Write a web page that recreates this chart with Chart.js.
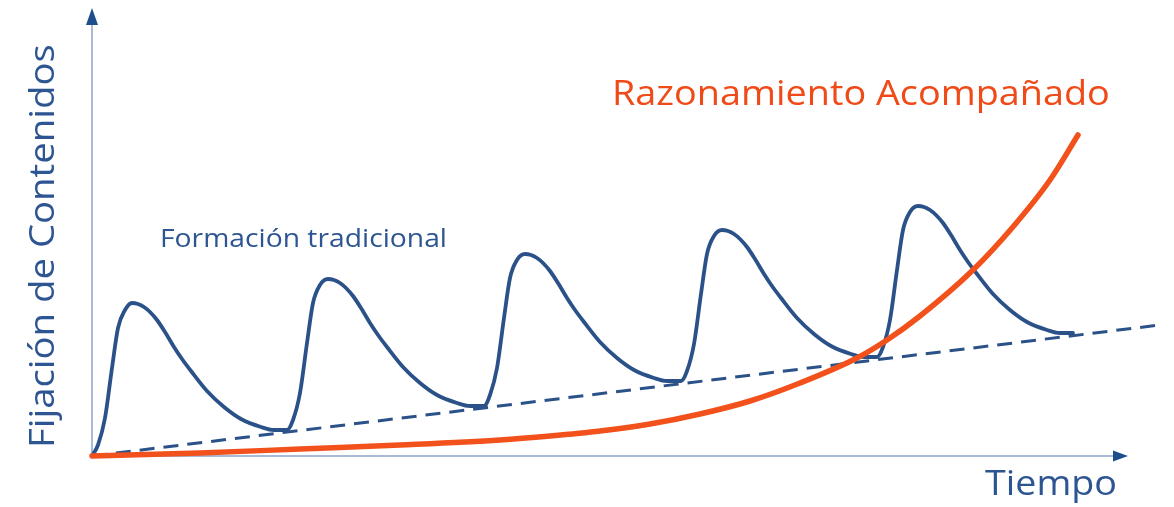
<!DOCTYPE html>
<html>
<head>
<meta charset="utf-8">
<script src="https://cdn.jsdelivr.net/npm/chart.js@4/dist/chart.umd.min.js"></script>
<style>
  html,body{margin:0;padding:0;background:#fff;}
  #wrap{width:1174px;height:507px;position:relative;}
</style>
</head>
<body>
<div id="wrap"><canvas id="c" width="1174" height="507"></canvas></div>
<script>
// ---- Data (arbitrary units: time along x, retention along y) ----
const titleY = "Fijación de Contenidos";
const titleX = "Tiempo";
const labelTraditional = "Formación tradicional";
const labelGuided = "Razonamiento Acompañado";

// Traditional training: learn-and-forget cycles
const tradX = [
  0,6,13,20,26,33,40,
  46,52,58,65,73,82,90,99,115,132,149,169,182,195,
  201,208,215,221,228,236,
  242,248,254,261,269,278,286,295,311,328,345,365,378,392,
  398,405,412,418,425,433,
  439,445,451,458,466,475,483,492,508,525,542,562,575,589,
  595,602,609,615,622,630,
  636,642,648,655,663,672,680,689,705,722,739,759,772,785,
  791,798,805,811,818,826,
  832,838,844,851,859,868,876,885,901,918,935,955,968,981];
const tradY = [
  0,11,38,88,128,146,153,
  152,149,144,136,124,109,97,85,65,49,37,29,26,26,
  36,63,113,153,171,177,
  176,173,168,160,148,133,121,109,89,73,61,53,50,50,
  61,88,138,178,196,202,
  201,198,193,185,173,158,146,134,114,98,86,78,75,75,
  85,112,162,202,220,226,
  225,222,217,209,197,182,170,158,138,122,110,102,99,99,
  109,136,186,226,244,250,
  249,246,241,233,221,206,194,182,162,146,134,126,123,123];

// Underlying trend of traditional training (dashed)
const trendX = [0, 1068];
const trendY = [0, 131];

// Guided reasoning: slow start, exponential growth
const guidedX = [0,108,208,308,408,458,508,558,608,658,708,765,795,828,881,920,958,986];
const guidedY = [0,3,7,11,16,20,25,32,42,55,73,98,116,140,186,228,276,321];

const X_MAX = 1070, Y_MAX = 440;
const AXIS_X_END = 1036, AXIS_Y_END = 448;

const toPts = (xs, ys) => xs.map((x, i) => ({x, y: ys[i]}));

const BLUE = '#2b5189';
const RED = '#f2511b';
const AXIS_LIGHT = '#a9bad6';
const AXIS_DARK = '#1f4e8c';
const FONT = '"Open Sans", "DejaVu Sans", sans-serif';

function fitText(ctx, text, x, y, width, capH, color, rotate) {
  ctx.save();
  ctx.font = '100px ' + FONT;
  const w100 = ctx.measureText(text).width;
  const cap100 = ctx.measureText('H').actualBoundingBoxAscent || 71.4;
  const size = 100 * width / w100;
  const cap = cap100 * size / 100;
  const sy = Math.min(1.15, Math.max(0.9, capH / cap));
  ctx.font = size.toFixed(2) + 'px ' + FONT;
  ctx.fillStyle = color;
  ctx.textBaseline = 'alphabetic';
  ctx.textAlign = 'left';
  ctx.translate(x, y);
  if (rotate) ctx.rotate(-Math.PI / 2);
  ctx.scale(1, sy);
  ctx.fillText(text, 0, 0);
  ctx.restore();
}

const decor = {
  id: 'decor',
  beforeDatasetsDraw(chart) {
    const ctx = chart.ctx;
    const xs = chart.scales.x, ys = chart.scales.y;
    const x0 = xs.getPixelForValue(0), y0 = ys.getPixelForValue(0);
    const xEnd = xs.getPixelForValue(AXIS_X_END);
    const yEnd = ys.getPixelForValue(AXIS_Y_END);
    ctx.save();
    ctx.strokeStyle = AXIS_LIGHT;
    ctx.lineWidth = 2;
    ctx.beginPath();
    ctx.moveTo(x0, y0); ctx.lineTo(xEnd - 10, y0);
    ctx.moveTo(x0, y0); ctx.lineTo(x0, yEnd + 12);
    ctx.stroke();
    ctx.fillStyle = AXIS_DARK;
    ctx.beginPath();
    ctx.moveTo(xEnd, y0); ctx.lineTo(xEnd - 15, y0 - 5.5); ctx.lineTo(xEnd - 15, y0 + 5.5); ctx.closePath();
    ctx.fill();
    ctx.beginPath();
    ctx.moveTo(x0, yEnd); ctx.lineTo(x0 - 6, yEnd + 17); ctx.lineTo(x0 + 6, yEnd + 17); ctx.closePath();
    ctx.fill();
    ctx.restore();
  },
  afterDraw(chart) {
    const ctx = chart.ctx;
    fitText(ctx, titleX, 985, 495, 132, 24, '#2d5592', false);
    fitText(ctx, titleY, 54, 448, 404, 22, '#2d5592', true);
    fitText(ctx, labelTraditional, 160, 247, 287, 19, '#2d5592', false);
    fitText(ctx, labelGuided, 612, 105, 498, 24, '#ef4a17', false);
  }
};

new Chart(document.getElementById('c'), {
  type: 'scatter',
  data: {
    datasets: [
      {
        label: 'trend',
        data: toPts(trendX, trendY),
        showLine: true, borderColor: BLUE, borderWidth: 3, borderDash: [15, 9],
        pointRadius: 0, clip: false, order: 3
      },
      {
        label: labelTraditional,
        data: toPts(tradX, tradY),
        showLine: true, borderColor: BLUE, borderWidth: 3.8,
        cubicInterpolationMode: 'monotone', borderCapStyle: 'round', borderJoinStyle: 'round',
        pointRadius: 0, clip: false, order: 2
      },
      {
        label: labelGuided,
        data: toPts(guidedX, guidedY),
        showLine: true, borderColor: RED, borderWidth: 5.5,
        cubicInterpolationMode: 'monotone', borderCapStyle: 'round', borderJoinStyle: 'round',
        pointRadius: 0, clip: false, order: 1
      }
    ]
  },
  options: {
    responsive: false,
    animation: false,
    layout: { padding: { left: 92, right: 12, top: 16, bottom: 51 } },
    plugins: { legend: { display: false }, tooltip: { enabled: false } },
    scales: {
      x: { type: 'linear', min: 0, max: X_MAX, display: false },
      y: { type: 'linear', min: 0, max: Y_MAX, display: false }
    }
  },
  plugins: [decor]
});
</script>
</body>
</html>
